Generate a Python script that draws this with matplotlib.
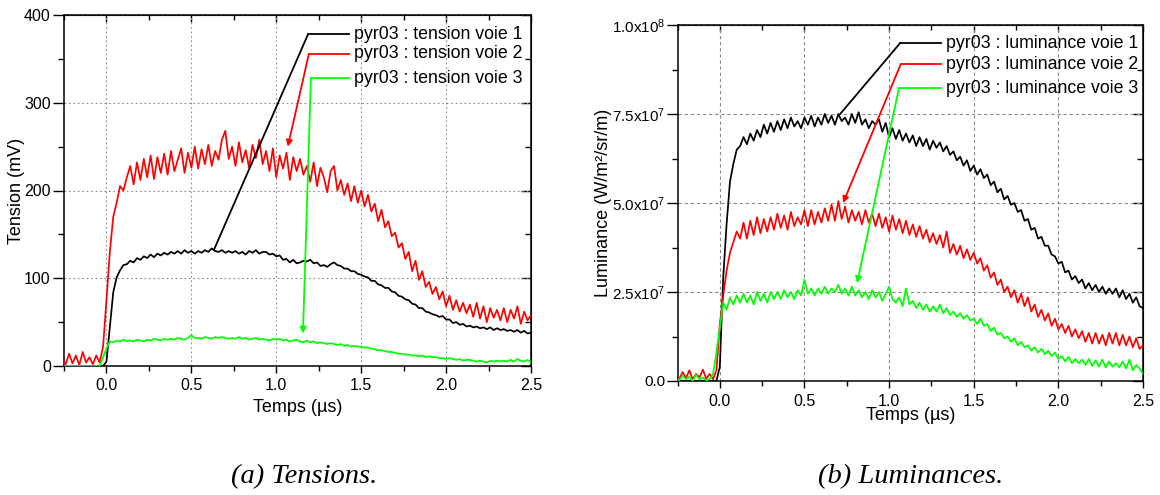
import numpy as np
import matplotlib
matplotlib.use("Agg")
import matplotlib.pyplot as plt
from matplotlib.ticker import MultipleLocator, FixedLocator, FixedFormatter

plt.rcParams['font.family'] = ['Liberation Sans', 'DejaVu Sans']
plt.rcParams['mathtext.fontset'] = 'custom'
plt.rcParams['mathtext.rm'] = 'Liberation Sans'
plt.rcParams['mathtext.it'] = 'Liberation Sans:italic'

# ---------------- data (sampled every 0.02 us from -0.26 us) ----------------
t_start = -0.26
t_step = 0.02

tension_voie1 = [
    0, 0, 0, 0, 0, 0, 0, 0, 0, 0,
    0, 0, 0, 5, 45, 84, 101, 109, 115, 116,
    120, 118, 123, 121, 125, 123, 127, 124, 128, 126,
    129, 127, 130, 128, 131, 128, 132, 129, 131, 128,
    131, 129, 132, 130, 134, 131, 130, 132, 129, 131,
    129, 131, 128, 130, 127, 131, 129, 132, 128, 130,
    130, 127, 128, 125, 126, 121, 122, 118, 121, 117,
    118, 120, 119, 121, 117, 118, 114, 115, 113, 116,
    118, 115, 114, 111, 111, 108, 108, 105, 104, 102,
    101, 97, 97, 93, 92, 89, 89, 85, 84, 80,
    79, 76, 75, 71, 70, 66, 66, 62, 61, 59,
    58, 56, 57, 53, 53, 49, 50, 47, 48, 45,
    46, 44, 45, 43, 44, 42, 44, 41, 43, 41,
    42, 40, 41, 39, 41, 38, 40, 37, 38,
]
tension_voie2 = [
    8, 2, 14, 3, 12, 1, 16, 4, 10, 2,
    12, 4, 22, 75, 130, 170, 186, 205, 200, 215,
    228, 207, 232, 212, 236, 215, 240, 213, 238, 220,
    242, 218, 245, 222, 235, 248, 220, 243, 226, 250,
    225, 247, 230, 252, 228, 245, 235, 258, 268, 236,
    250, 228, 255, 232, 246, 226, 252, 237, 258, 230,
    245, 222, 248, 215, 240, 225, 243, 212, 238, 222,
    236, 218, 228, 210, 232, 205, 226, 215, 198, 222,
    228, 200, 212, 195, 208, 188, 205, 186, 200, 182,
    195, 176, 185, 165, 178, 158, 165, 148, 152, 135,
    140, 122, 130, 108, 120, 98, 108, 90, 96, 82,
    90, 76, 85, 68, 80, 64, 75, 62, 72, 60,
    70, 56, 72, 54, 68, 50, 66, 55, 64, 52,
    66, 50, 64, 54, 68, 48, 62, 52, 58,
]
tension_voie3 = [
    0, 0, 0, 0, 0, 0, 0, 0, 0, 0,
    0, 0, 10, 20, 28, 27, 29, 28, 30, 28,
    29, 28, 30, 29, 28, 30, 29, 31, 30, 29,
    31, 30, 31, 30, 32, 31, 30, 32, 35, 32,
    32, 31, 33, 32, 31, 33, 32, 33, 32, 31,
    32, 31, 33, 31, 32, 30, 31, 32, 30, 31,
    30, 29, 31, 30, 31, 29, 30, 28, 29, 30,
    28, 27, 29, 27, 28, 26, 27, 26, 25, 26,
    25, 24, 25, 23, 24, 22, 23, 22, 22, 21,
    21, 20, 19, 18, 18, 17, 16, 16, 15, 14,
    14, 13, 13, 12, 12, 11, 12, 10, 11, 10,
    10, 9, 9, 8, 9, 8, 7, 8, 6, 7,
    7, 6, 5, 6, 5, 4, 6, 5, 6, 5,
    6, 5, 7, 5, 8, 6, 5, 7, 4,
]

# luminances in units of 1e7 W/m2/sr/m
luminance_voie1 = [
    0, 0, 0, 0, 0, 0, 0, 0, 0, 0,
    0, 0, 0, 0.4, 2.9, 4.4, 5.6, 6.1, 6.5, 6.6,
    6.85, 6.65, 6.95, 6.75, 7.05, 6.85, 7.2, 6.95, 7.25, 7.0,
    7.3, 7.05, 7.35, 7.1, 7.4, 7.15, 7.3, 7.1, 7.4, 7.2,
    7.45, 7.15, 7.4, 7.2, 7.5, 7.25, 7.45, 7.2, 7.5, 7.3,
    7.4, 7.2, 7.5, 7.25, 7.55, 7.2, 7.35, 7.1, 7.3, 7.2,
    7.35, 7.0, 7.25, 6.85, 7.1, 6.8, 7.05, 6.75, 6.95, 6.7,
    6.9, 6.6, 6.85, 6.6, 6.8, 6.5, 6.75, 6.55, 6.7, 6.45,
    6.6, 6.35, 6.45, 6.2, 6.3, 6.05, 6.2, 5.9, 6.05, 5.8,
    5.95, 5.7, 5.8, 5.5, 5.6, 5.3, 5.4, 5.1, 5.2, 4.95,
    5.0, 4.75, 4.8, 4.5, 4.55, 4.25, 4.3, 4.0, 4.05, 3.8,
    3.8, 3.55, 3.5, 3.3, 3.35, 3.05, 3.1, 2.85, 2.95, 2.75,
    2.85, 2.6, 2.75, 2.55, 2.7, 2.5, 2.65, 2.45, 2.6, 2.45,
    2.6, 2.35, 2.55, 2.3, 2.45, 2.2, 2.35, 2.1, 2.05,
]
luminance_voie2 = [
    0.15, 0.05, 0.25, 0.08, 0.3, 0.05, 0.2, 0.1, 0.32, 0.06,
    0.2, 0.05, 0.3, 1.6, 2.4, 3.1, 3.6, 3.9, 4.2, 4.0,
    4.45, 4.0, 4.5, 4.1, 4.6, 4.15, 4.55, 4.2, 4.6, 4.25,
    4.7, 4.3, 4.65, 4.25, 4.75, 4.35, 4.6, 4.4, 4.8, 4.35,
    4.8, 4.4, 4.75, 4.45, 4.85, 4.5, 4.95, 4.5, 5.05, 4.55,
    4.9, 4.45, 4.8, 4.5, 4.75, 4.4, 4.8, 4.45, 4.7, 4.35,
    4.7, 4.3, 4.6, 4.2, 4.65, 4.25, 4.55, 4.15, 4.5, 4.1,
    4.4, 4.05, 4.35, 4.0, 4.25, 3.9, 4.15, 3.85, 4.1, 3.75,
    4.2, 3.6, 3.85, 3.55, 3.8, 3.45, 3.7, 3.4, 3.6, 3.3,
    3.45, 3.1, 3.25, 2.9, 3.05, 2.7, 2.85, 2.5, 2.65, 2.35,
    2.55, 2.2, 2.45, 2.1, 2.35, 1.95, 2.15, 1.8, 2.0, 1.7,
    1.9, 1.55, 1.75, 1.45, 1.6, 1.35, 1.55, 1.25, 1.45, 1.2,
    1.4, 1.1, 1.35, 1.05, 1.35, 1.05, 1.3, 1.0, 1.35, 1.05,
    1.35, 1.0, 1.3, 1.0, 1.25, 0.95, 1.2, 0.9, 1.0,
]
luminance_voie3 = [
    0.1, 0.02, 0.15, 0.05, 0.12, 0.0, 0.18, 0.04, 0.1, 0.02,
    0.05, 0.2, 0.8, 1.5, 2.2, 2.0, 2.35, 2.15, 2.4, 2.2,
    2.45, 2.2, 2.4, 2.15, 2.5, 2.25, 2.45, 2.2, 2.5, 2.3,
    2.5, 2.3, 2.55, 2.35, 2.5, 2.3, 2.55, 2.4, 2.85, 2.45,
    2.6, 2.4, 2.6, 2.45, 2.65, 2.45, 2.6, 2.5, 2.7, 2.45,
    2.6, 2.4, 2.65, 2.4, 2.55, 2.35, 2.5, 2.3, 2.55, 2.35,
    2.5, 2.25, 2.45, 2.65, 2.3, 2.2, 2.35, 2.1, 2.6, 2.15,
    2.25, 2.05, 2.2, 2.0, 2.15, 1.95, 2.1, 1.95, 2.15, 1.9,
    2.05, 1.85, 1.95, 1.8, 1.9, 1.75, 1.85, 1.7, 1.75, 1.6,
    1.75, 1.55, 1.6, 1.4, 1.5, 1.3, 1.35, 1.2, 1.25, 1.1,
    1.2, 1.0, 1.1, 0.95, 1.0, 0.85, 0.95, 0.8, 0.9, 0.75,
    0.85, 0.7, 0.8, 0.62, 0.7, 0.55, 0.68, 0.5, 0.62, 0.5,
    0.6, 0.45, 0.62, 0.42, 0.58, 0.4, 0.6, 0.38, 0.55, 0.4,
    0.5, 0.38, 0.55, 0.35, 0.6, 0.3, 0.45, 0.35, 0.2,
]

tension_labels = ["pyr03 : tension voie 1", "pyr03 : tension voie 2", "pyr03 : tension voie 3"]
luminance_labels = ["pyr03 : luminance voie 1", "pyr03 : luminance voie 2", "pyr03 : luminance voie 3"]
colors = ["#000000", "#FF0000", "#00FF00"]

lum_ticks = [0.0, 2.5e7, 5.0e7, 7.5e7, 1.0e8]
lum_ticklabels = ["0.0", r"2.5x10$^{7}$", r"5.0x10$^{7}$", r"7.5x10$^{7}$", r"1.0x10$^{8}$"]

# annotation geometry (text anchor, elbow, target), data coords
tension_annot = [
    ((1.46, 378), (1.187, 378), (0.632, 132), False),
    ((1.46, 355.6), (1.192, 355.6), (1.068, 250), True),
    ((1.46, 328), (1.204, 328), (1.157, 37), True),
]
lum_annot = [
    ((1.335, 0.949e8), (1.065, 0.949e8), (0.711, 0.75e8), False),
    ((1.335, 0.890e8), (1.069, 0.890e8), (0.728, 0.50e8), True),
    ((1.335, 0.822e8), (1.058, 0.822e8), (0.811, 0.275e8), True),
]

fig = plt.figure(figsize=(11.6, 4.95), dpi=100)
ax1 = fig.add_axes([64 / 1160, 1 - 366 / 495, 467 / 1160, 351 / 495])
ax2 = fig.add_axes([677.5 / 1160, 1 - 381 / 495, 465.5 / 1160, 356 / 495])

temps = t_start + t_step * np.arange(len(tension_voie1))

XMAJ = [0.0, 0.5, 1.0, 1.5, 2.0, 2.5]
XMIN = [-0.25, 0.25, 0.75, 1.25, 1.75, 2.25]


def style_axes(ax, grid_ls):
    ax.set_xlim(-0.25, 2.5)
    ax.xaxis.set_major_locator(FixedLocator(XMAJ))
    ax.xaxis.set_minor_locator(FixedLocator(XMIN))
    ax.tick_params(which='both', direction='out', labelsize=11.5, width=1.0,
                   top=False, right=False)
    ax.tick_params(axis='x', which='major', length=5, pad=4)
    ax.tick_params(axis='x', which='minor', length=3.5)
    ax.tick_params(axis='y', which='major', length=8, pad=1.5)
    ax.tick_params(axis='y', which='minor', length=4.5)
    for s in ax.spines.values():
        s.set_linewidth(1.1)
    ax.grid(True, which='major', color='#8a8a8a', linestyle=grid_ls, linewidth=0.8)
    ax.set_axisbelow(True)
    sx = ax.secondary_xaxis('top')
    sx.xaxis.set_major_locator(FixedLocator(XMAJ))
    sx.xaxis.set_minor_locator(FixedLocator(XMIN))
    sx.tick_params(which='both', direction='in', labeltop=False, width=1.0)
    sx.tick_params(which='major', length=5)
    sx.tick_params(which='minor', length=3.5)
    return sx


def right_ticks(ax, major, minor):
    sy = ax.secondary_yaxis('right')
    sy.yaxis.set_major_locator(major)
    sy.yaxis.set_minor_locator(minor)
    sy.tick_params(which='both', direction='in', labelright=False, width=1.0)
    sy.tick_params(which='major', length=7)
    sy.tick_params(which='minor', length=4)
    return sy


style_axes(ax1, (0, (1.5, 2.5)))
style_axes(ax2, (0, (3, 2.5)))

# Tensions
for vals, c in zip([tension_voie1, tension_voie2, tension_voie3], colors):
    ax1.plot(temps, vals, color=c, linewidth=1.25, zorder=3)
ax1.set_ylim(0, 400)
ax1.yaxis.set_major_locator(MultipleLocator(100))
ax1.yaxis.set_minor_locator(MultipleLocator(50))
right_ticks(ax1, MultipleLocator(100), MultipleLocator(50))
ax1.set_xlabel("Temps (µs)", fontsize=13, labelpad=4)
ax1.set_ylabel("Tension (mV)", fontsize=13, labelpad=-1)

# Luminances
for vals, c in zip([luminance_voie1, luminance_voie2, luminance_voie3], colors):
    ax2.plot(temps, np.array(vals) * 1e7, color=c, linewidth=1.25, zorder=3)
ax2.set_ylim(0, 1.0e8)
ax2.yaxis.set_major_locator(FixedLocator(lum_ticks))
ax2.yaxis.set_major_formatter(FixedFormatter(lum_ticklabels))
ax2.yaxis.set_minor_locator(MultipleLocator(1.25e7))
right_ticks(ax2, FixedLocator(lum_ticks), MultipleLocator(1.25e7))
ax2.tick_params(axis='y', labelsize=11, pad=0.5)
ax2.set_xlabel("Temps (µs)", fontsize=13, labelpad=-1)
ax2.set_ylabel("Luminance (W/m²/sr/m)", fontsize=13, labelpad=0)


def draw_annotations(ax, annots, labels):
    for (txy, elbow, target, arrow), lab, c in zip(annots, labels, colors):
        ax.plot([txy[0] - 0.03, elbow[0]], [txy[1], elbow[1]], color=c, linewidth=1.3, zorder=5)
        ax.annotate("", xy=target, xytext=elbow,
                    arrowprops=dict(arrowstyle='-|>' if arrow else '-', color=c, lw=1.3,
                                    mutation_scale=9, shrinkA=0, shrinkB=0),
                    zorder=5)
        ax.text(txy[0], txy[1], lab, fontsize=12.8, va='center', ha='left', zorder=6)


draw_annotations(ax1, tension_annot, tension_labels)
draw_annotations(ax2, lum_annot, luminance_labels)

fig.text(304 / 1160, 1 - 477 / 495, "(a) Tensions.", fontsize=20.5, style='italic',
         family=['Liberation Serif', 'DejaVu Serif'], ha='center', va='center')
fig.text(911 / 1160, 1 - 477 / 495, "(b) Luminances.", fontsize=20.5, style='italic',
         family=['Liberation Serif', 'DejaVu Serif'], ha='center', va='center')

fig.savefig("out.png", dpi=100)
